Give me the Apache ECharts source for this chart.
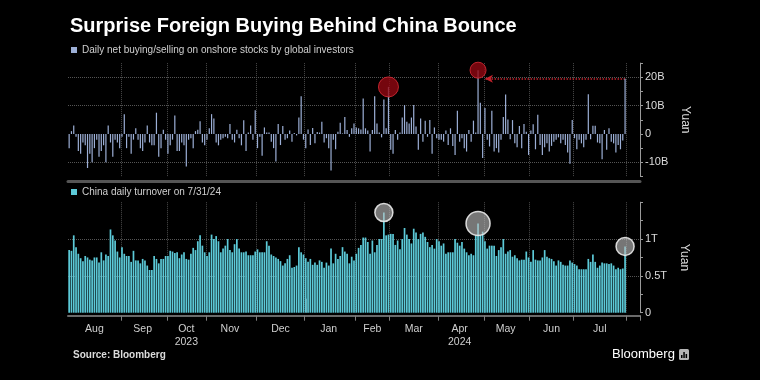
<!DOCTYPE html>
<html>
<head>
<meta charset="utf-8">
<script src="https://cdn.jsdelivr.net/npm/echarts@6/dist/echarts.min.js"></script>
<style>
html,body{margin:0;padding:0;background:#000;}
#c{width:760px;height:380px;}
</style>
</head>
<body>
<div id="c"></div>
<script>
// ---- categories: China A-share trading days, Aug 2023 - Jul 2024 ----
const monthNames = ['Aug','Sep','Oct','Nov','Dec','Jan','Feb','Mar','Apr','May','Jun','Jul'];
const monthYears = [2023,2023,2023,2023,2023,2024,2024,2024,2024,2024,2024,2024];
const monthNums  = [8,9,10,11,12,1,2,3,4,5,6,7];
const aug23 = [1,2,3,4,7,8,9,10,11,14,15,16,17,18,21,22,23,24,25,28,29,30,31];
const sep23 = [1,4,5,6,7,8,11,12,13,14,15,18,19,20,21,22,25,26,27,28];
const oct23 = [9,10,11,12,13,16,17,18,19,20,23,24,25,26,27,30,31];
const nov23 = [1,2,3,6,7,8,9,10,13,14,15,16,17,20,21,22,23,24,27,28,29,30];
const dec23 = [1,4,5,6,7,8,11,12,13,14,15,18,19,20,21,22,25,26,27,28,29];
const jan24 = [2,3,4,5,8,9,10,11,12,15,16,17,18,19,22,23,24,25,26,29,30,31];
const feb24 = [1,2,5,6,7,8,19,20,21,22,23,26,27,28,29];
const mar24 = [1,4,5,6,7,8,11,12,13,14,15,18,19,20,21,22,25,26,27,28,29];
const apr24 = [1,2,3,8,9,10,11,12,15,16,17,18,19,22,23,24,25,26,29,30];
const may24 = [6,7,8,9,10,13,14,15,16,17,20,21,22,23,24,27,28,29,30,31];
const jun24 = [3,4,5,6,7,11,12,13,14,17,18,19,20,21,24,25,26,27,28];
const jul24 = [1,2,3,4,5,8,9,10,11,12,15,16,17,18,19,22,23,24,25,26,29,30,31];
const monthDays = [aug23,sep23,oct23,nov23,dec23,jan24,feb24,mar24,apr24,may24,jun24,jul24];
const yearLabels = ['2023','2024'];
const yearLabelMonths = ['Oct','Apr'];

// ---- series values ----
// Daily net buying/selling by global investors, billion yuan
const netBuying = [
-5,1,3,-1,-6,-7,-3,-4,-12,-7,
-10,-5,-2,-8,-6,-4,-10,3,-3,-8,
-2,-3,-5,-1,7,-5,-1,-7,-2,2,
-2,-5,-6,-3,3,-3,-4,-4,7.5,-8,
-5,1.5,-2,-7,-4,-2,6.5,-6,-6,-3,
-4,-11.5,-2,-1.5,-5,1,1.5,4.5,-3,-4,
-2,2,7,5.5,-3,-4,-2,-1.5,-1,-1.5,
3.5,-2,-3,1.5,-1.5,-4,4.8,-6,0.5,3,
-2,8.4,-5,-1,-7.7,2.3,0.5,0.5,-2.7,-5,
-9.7,3.5,-3.9,2.8,-2,-1.5,1.2,-2.7,0.3,-0.5,
5.8,13.3,-2,-5,1.6,-3.9,2.1,-3.3,0.7,0.5,
4.3,-3,-1.5,-5,-12.9,-2,-5.4,0.8,4,0.2,
6,1.4,-1,2,3.7,2.3,2,1.6,12.5,2,
1.2,-6.2,1.4,13.3,3.7,0.5,-1.2,12.2,2,16.6,
-5.6,-7,1.4,-2,0.5,5.8,10.2,4.3,3.7,5.8,
10.2,2.6,-5.6,5.5,-2.7,4.7,-1,4.9,-7,2.3,
-1.5,-2,-2,-2.7,1.2,-3.9,2,-4.2,-7.4,8.2,
-2.7,-1.5,-5,-6.2,1.4,-2.7,4.7,0.5,22.5,11,
-8.5,9.2,-2,-4.4,8.2,-6.2,-5,-6.5,-2,6,
13.9,5.1,-1.9,4.9,-3.3,-4.7,2.8,-5,3.5,0.8,
-7.4,1.2,3.4,-5.4,6.8,-3.9,-7.4,-4.7,-3.3,-6.2,
-4.2,-2.7,-2,-1.2,-3.3,-2,-3.9,-6.5,-10.5,4.9,
-1.5,-5.4,-2,-3.3,-4.7,-2,14,-1.9,2.9,2.9,
-3,-3.3,-8.9,1.4,-5.6,2,-2.7,-3.3,-6.5,-3.9,
-5.4,-2.3,19.5
];
// China daily turnover, trillion yuan
const turnover = [
0.85,0.84,1.05,0.89,0.80,0.74,0.70,0.77,0.75,0.72,
0.71,0.75,0.75,0.68,0.82,0.71,0.79,0.77,1.13,1.05,
0.98,0.83,0.75,0.89,0.80,0.77,0.77,0.69,0.84,0.71,
0.71,0.67,0.73,0.71,0.64,0.58,0.58,0.77,0.73,0.67,
0.73,0.73,0.77,0.77,0.84,0.83,0.81,0.82,0.74,0.79,
0.82,0.73,0.72,0.80,0.88,0.85,0.97,1.05,0.91,0.82,
0.77,0.82,1.06,1.00,1.04,0.97,0.82,0.87,0.91,1.00,
0.85,0.82,0.93,1.00,0.87,0.82,0.82,0.83,0.78,0.78,
0.78,0.83,0.86,0.82,0.82,0.82,0.97,0.91,0.79,0.77,
0.75,0.73,0.70,0.64,0.67,0.73,0.78,0.61,0.62,0.64,
0.89,0.82,0.79,0.74,0.69,0.73,0.65,0.68,0.65,0.71,
0.69,0.61,0.68,0.64,0.87,0.67,0.80,0.73,0.77,0.89,
0.83,0.80,0.67,0.76,0.71,0.80,0.88,0.92,1.02,1.02,
0.96,0.80,0.98,0.82,0.92,1.00,1.00,1.36,1.05,1.06,
1.07,1.07,0.92,0.98,0.86,1.00,1.15,1.06,1.00,0.94,
1.14,1.09,1.00,1.07,1.09,1.03,0.96,0.89,0.92,0.87,
1.00,0.97,0.91,0.94,0.80,0.82,0.82,0.82,1.00,0.95,
0.91,0.96,0.87,0.82,0.78,0.80,0.78,1.05,1.21,1.05,
1.10,0.97,0.87,0.91,0.91,0.91,0.77,0.85,0.89,1.00,
0.80,0.83,0.85,0.76,0.78,0.74,0.71,0.72,0.72,0.83,
0.75,0.69,0.85,0.72,0.71,0.71,0.75,0.85,0.76,0.74,
0.73,0.70,0.64,0.71,0.69,0.65,0.64,0.64,0.71,0.68,
0.66,0.64,0.59,0.59,0.59,0.59,0.73,0.69,0.79,0.69,
0.61,0.64,0.68,0.67,0.67,0.66,0.67,0.64,0.59,0.61,
0.59,0.60,0.90
];

// ---- tick labels ----
const netTicks = [-10, 0, 10, 20];
const netTickText = ['-10B', '0', '10B', '20B'];
const turnoverTicks = [0, 0.5, 1];
const turnoverTickText = ['0', '0.5T', '1T'];

// ---- annotations ----
const netHighlightDates = ['2024-02-29', '2024-04-26'];
const turnoverHighlightDates = ['2024-02-27', '2024-04-26', '2024-07-31'];
const arrowFromDate = '2024-07-31';
const arrowToDate = '2024-05-06';

const netName = 'Daily net buying/selling on onshore stocks by global investors';
const turnoverName = 'China daily turnover on 7/31/24';

// ---- build categories ----
const dates = [];
const monthStartIdx = [];
const monthLabelByDate = {};
monthDays.forEach(function (days, k) {
  monthStartIdx.push(dates.length);
  const mid = dates.length + Math.floor((days.length - 1) / 2);
  days.forEach(function (d) {
    dates.push(monthYears[k] + '-' + String(monthNums[k]).padStart(2, '0') + '-' + String(d).padStart(2, '0'));
  });
  let lbl = monthNames[k];
  const yi = yearLabelMonths.indexOf(monthNames[k]);
  if (yi >= 0) lbl += '\n' + yearLabels[yi];
  monthLabelByDate[dates[mid]] = lbl;
});
const gridStarts = new Set(monthStartIdx.slice(1).concat([dates.length]));
const yearStartIdx = monthStartIdx[monthYears.indexOf(2024)];
const padBands = 6;
const xMax = dates.length - 1 + padBands;
const idxOf = function (d) { return dates.indexOf(d); };

const FONT = "'Liberation Sans', Arial, sans-serif";
const netColor = '#9cafd6';
const turnoverColor = '#5ccad8';
const gridLineColor = '#4a4a4a';

function netLabel(v) {
  const i = netTicks.indexOf(v);
  return i >= 0 ? netTickText[i] : '';
}
function turnoverLabel(v) {
  const i = turnoverTicks.indexOf(v);
  return i >= 0 ? turnoverTickText[i] : '';
}

const xBase = {
  type: 'category',
  data: dates,
  max: xMax,
  boundaryGap: true
};

const option = {
  backgroundColor: '#000',
  animation: false,
  textStyle: { fontFamily: FONT },
  title: {
    text: 'Surprise Foreign Buying Behind China Bounce',
    left: 65, top: 11,
    textStyle: { color: '#fff', fontSize: 20, fontWeight: 'bold', fontFamily: FONT }
  },
  legend: [
    {
      data: [netName], left: 71, top: 45, padding: 0,
      icon: 'rect', itemWidth: 6, itemHeight: 6, selectedMode: false,
      textStyle: { color: '#cfcfcf', fontSize: 10, fontFamily: FONT }
    },
    {
      data: [turnoverName], left: 71, top: 187, padding: 0,
      icon: 'rect', itemWidth: 6, itemHeight: 6, selectedMode: false,
      textStyle: { color: '#cfcfcf', fontSize: 10, fontFamily: FONT }
    }
  ],
  grid: [
    { left: 68, right: 120, top: 63.1, height: 113.4 },
    { left: 68, right: 120, top: 202.2, height: 110.5 }
  ],
  xAxis: [
    Object.assign({}, xBase, {
      gridIndex: 0, offset: 5,
      axisLine: { show: true, onZero: false, lineStyle: { color: '#555', width: 3 } },
      axisTick: { show: false },
      axisLabel: { show: false },
      splitLine: { show: true, interval: function (i) { return gridStarts.has(i); },
        lineStyle: { color: gridLineColor, type: 'dotted', width: 1 } }
    }),
    Object.assign({}, xBase, {
      gridIndex: 1, offset: 3,
      axisLine: { show: true, onZero: false, lineStyle: { color: '#6a6a6a', width: 2 } },
      axisTick: { show: true, interval: function (i) { return gridStarts.has(i); }, length: 5,
        lineStyle: { color: '#808080' } },
      axisLabel: {
        show: true, color: '#cfcfcf', fontSize: 10.5, lineHeight: 13, margin: 7,
        interval: function (i, v) { return monthLabelByDate[v] !== undefined; },
        formatter: function (v) { return monthLabelByDate[v] || ''; }
      },
      splitLine: { show: true, interval: function (i) { return gridStarts.has(i); },
        lineStyle: { color: gridLineColor, type: 'dotted', width: 1 } }
    }),
    Object.assign({}, xBase, {
      gridIndex: 1, offset: 21,
      axisLine: { show: false },
      axisTick: { show: true, alignWithLabel: true, length: 14,
        interval: function (i) { return i === yearStartIdx; },
        lineStyle: { color: '#808080' } },
      axisLabel: { show: false },
      splitLine: { show: false }
    })
  ],
  yAxis: [
    {
      type: 'value', gridIndex: 0, position: 'right',
      min: -15, max: 25, interval: 5,
      axisLine: { show: true, lineStyle: { color: '#9a9a9a', width: 1 } },
      axisTick: { show: true, length: 3, lineStyle: { color: '#9a9a9a' } },
      axisLabel: { color: '#dcdcdc', fontSize: 11, margin: 5, formatter: netLabel },
      splitLine: { show: false },
      name: 'Yuan', nameLocation: 'middle', nameRotate: -90, nameGap: 32,
      nameTextStyle: { color: '#dcdcdc', fontSize: 12 }
    },
    {
      type: 'value', gridIndex: 1, position: 'right',
      min: 0, max: 1.5, interval: 0.25,
      axisLine: { show: true, lineStyle: { color: '#9a9a9a', width: 1 } },
      axisTick: { show: true, length: 3, lineStyle: { color: '#9a9a9a' } },
      axisLabel: { color: '#dcdcdc', fontSize: 11, margin: 5, formatter: turnoverLabel },
      splitLine: { show: false },
      name: 'Yuan', nameLocation: 'middle', nameRotate: -90, nameGap: 36,
      nameTextStyle: { color: '#dcdcdc', fontSize: 12 }
    }
  ],
  series: [
    {
      name: netName, type: 'bar', xAxisIndex: 0, yAxisIndex: 0,
      data: netBuying, barWidth: 1.2,
      itemStyle: { color: netColor },
      markLine: {
        silent: true, symbol: 'none', z: 1, label: { show: false },
        lineStyle: { color: '#555', type: 'dotted', width: 1 },
        data: netTicks.filter(function (v) { return v !== 0; }).map(function (v) { return { yAxis: v }; }).concat([
          [
            { coord: [arrowFromDate, netBuying[idxOf(arrowFromDate)]], symbol: 'none',
              lineStyle: { color: '#c3222c', type: 'dotted', width: 1.5 } },
            { coord: [arrowToDate, netBuying[idxOf(arrowFromDate)]], symbol: 'arrow', symbolSize: [6, 8] }
          ]
        ])
      },
      markPoint: {
        silent: true, symbol: 'circle', label: { show: false },
        data: netHighlightDates.map(function (d, k) {
          return {
            coord: [d, netBuying[idxOf(d)]], symbolSize: k === 0 ? 20 : 16,
            itemStyle: { color: 'rgba(150,8,18,0.78)', borderColor: 'rgba(205,40,50,0.9)', borderWidth: 1 }
          };
        })
      }
    },
    {
      name: turnoverName, type: 'bar', xAxisIndex: 1, yAxisIndex: 1,
      data: turnover, barWidth: 1.7,
      itemStyle: { color: turnoverColor },
      markLine: {
        silent: true, symbol: 'none', z: 1, label: { show: false },
        lineStyle: { color: '#555', type: 'dotted', width: 1 },
        data: turnoverTicks.filter(function (v) { return v !== 0; }).map(function (v) { return { yAxis: v }; })
      },
      markPoint: {
        silent: true, symbol: 'circle', label: { show: false },
        data: turnoverHighlightDates.map(function (d, k) {
          return {
            coord: [d, turnover[idxOf(d)]], symbolSize: [18, 24, 18][k],
            itemStyle: { color: 'rgba(190,190,190,0.62)', borderColor: 'rgba(235,235,235,0.9)', borderWidth: 1.5 }
          };
        })
      }
    }
  ],
  graphic: [
    { type: 'text', left: 73, top: 350,
      style: { text: 'Source: Bloomberg', fill: '#dcdcdc', font: "bold 10px 'Liberation Sans', Arial, sans-serif" } },
    { type: 'text', left: 612, top: 348,
      style: { text: 'Bloomberg', fill: '#ffffff', font: "13px 'Liberation Sans', Arial, sans-serif" } },
    { type: 'group', left: 679, top: 349, children: [
      { type: 'rect', shape: { x: 0, y: 0, width: 10, height: 11, r: 1.5 }, style: { fill: '#b5b5b5' } },
      { type: 'rect', shape: { x: 2, y: 6, width: 1.5, height: 3 }, style: { fill: '#000' } },
      { type: 'rect', shape: { x: 4.3, y: 3, width: 1.5, height: 6 }, style: { fill: '#000' } },
      { type: 'rect', shape: { x: 6.6, y: 5, width: 1.5, height: 4 }, style: { fill: '#000' } }
    ]}
  ]
};

const chart = echarts.init(document.getElementById('c'));
chart.setOption(option);
</script>
</body>
</html>
